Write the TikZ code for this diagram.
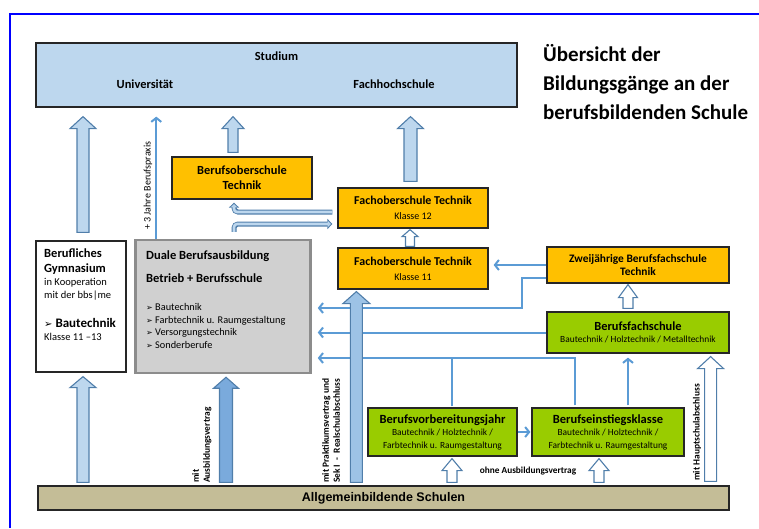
\documentclass[tikz,border=0pt]{standalone}
\usepackage{fontspec}
\setmainfont{Carlito}
\newfontfamily\arialfont{Liberation Sans}
\newfontfamily\symfont{DejaVu Sans}
\usetikzlibrary{arrows.meta,calc}

\definecolor{frameblue}{RGB}{0,0,255}
\definecolor{studblue}{RGB}{189,215,238}
\definecolor{edgeblue}{RGB}{80,126,170}
\definecolor{linkblue}{RGB}{91,155,213}
\definecolor{midblue}{RGB}{157,195,230}
\definecolor{deepblue}{RGB}{122,170,220}
\definecolor{fosorange}{RGB}{255,192,0}
\definecolor{bfsgreen}{RGB}{153,204,0}
\definecolor{dualgray}{RGB}{208,208,208}
\definecolor{dualedge}{RGB}{140,140,140}
\definecolor{allgtan}{RGB}{196,189,151}

% block arrow pointing up: style, shaft half width, head half width, head length, from, to
\newcommand{\blockarrow}[6]{%
  \draw[#1] let \p1=#5, \p2=#6 in
    (\x1-#2,\y1) -- (\x1-#2,\y2-#4) -- (\x1-#3,\y2-#4) -- (\x1,\y2)
    -- (\x1+#3,\y2-#4) -- (\x1+#2,\y2-#4) -- (\x1+#2,\y1) -- cycle;}

\tikzset{
  box/.style={draw=black!85, line width=1.2pt, inner sep=0pt, align=center},
  fosbox/.style={box, fill=fosorange},
  bfsbox/.style={box, fill=bfsgreen},
  headtxt/.style={font=\fontsize{12.4}{15}\selectfont\bfseries},
  subtxt/.style={font=\fontsize{9.4}{12.5}\selectfont},
  rotlbl/.style={rotate=90, align=left, inner sep=0pt, font=\fontsize{9.4}{11}\selectfont\bfseries},
  link/.style={linkblue, line width=2pt, -{Straight Barb[length=4pt,width=10pt]}},
  linkline/.style={linkblue, line width=2pt},
  lightarr/.style={draw=edgeblue, fill=studblue, line width=1.1pt},
  midarr/.style={draw=edgeblue, fill=midblue, line width=1.1pt},
  deeparr/.style={draw=edgeblue, fill=deepblue, line width=1.1pt},
  openarr/.style={draw=edgeblue, fill=white, line width=1.1pt},
  tubeout/.style={edgeblue, line width=5pt, rounded corners=4pt, -{Triangle[length=5pt,width=10pt]}},
  tubein/.style={studblue, line width=2.6pt, rounded corners=3pt, shorten >=1.5pt, -{Triangle[length=3pt,width=6pt]}}
}

\begin{document}
\begin{tikzpicture}[x=1pt,y=-1pt]
\useasboundingbox (0,0) rectangle (759,528);
\draw[frameblue, line width=1.6pt] (10,528) -- (10,14) -- (759,14);

% Studium
\node[box, fill=studblue, minimum width=481pt, minimum height=64pt] (stud) at (276.5,75) {};
\node[headtxt] (studium) at (276.5,56) {Studium};
\node[headtxt] (uni) at (145,84) {Universität};
\node[headtxt] (fh) at (394,84) {Fachhochschule};

\node[anchor=north west, align=left, inner sep=0pt, font=\fontsize{21}{29}\selectfont\bfseries] (title) at (543,44)
  {Übersicht der\\Bildungsgänge an der\\berufsbildenden Schule};

% orange
\node[fosbox, headtxt, minimum width=140pt, minimum height=42pt] (bos) at (242,178) {Berufsoberschule\\Technik};
\node[fosbox, minimum width=150pt, minimum height=40pt, font=\fontsize{12}{15}\selectfont\bfseries] (fos12) at (413,208)
  {Fachoberschule Technik\\{\fontsize{10}{12}\selectfont\mdseries Klasse 12}};
\node[fosbox, minimum width=150pt, minimum height=41pt, font=\fontsize{12}{15}\selectfont\bfseries] (fos11) at (413,268.5)
  {Fachoberschule Technik\\{\fontsize{10}{12}\selectfont\mdseries Klasse 11}};
\node[fosbox, minimum width=182pt, minimum height=36pt, font=\fontsize{11.4}{13}\selectfont\bfseries] (zwei) at (638,265)
  {Zweijährige Berufsfachschule\\Technik};

% green
\node[bfsbox, minimum width=182pt, minimum height=41pt, subtxt] (bfs) at (638,332.5)
  {{\fontsize{12.4}{14}\selectfont\bfseries Berufsfachschule}\\Bautechnik / Holztechnik / Metalltechnik};
\node[bfsbox, minimum width=149pt, minimum height=48pt, subtxt] (bvj) at (442.5,432)
  {{\fontsize{12.5}{13}\selectfont\bfseries Berufsvorbereitungsjahr}\\Bautechnik / Holztechnik /\\Farbtechnik u. Raumgestaltung};
\node[bfsbox, minimum width=152pt, minimum height=48pt, subtxt] (bek) at (608,432)
  {{\fontsize{12.5}{13}\selectfont\bfseries Berufseinstiegsklasse}\\Bautechnik / Holztechnik /\\Farbtechnik u. Raumgestaltung};

% left boxes
\node[box, fill=white, minimum width=90pt, minimum height=131pt] (gym) at (81,306.5) {};
\node[anchor=west, align=left, inner sep=0pt, font=\fontsize{12.5}{15}\selectfont\bfseries] (gymhead) at (44,261.5) {Berufliches\\Gymnasium};
\node[anchor=west, align=left, inner sep=0pt, font=\fontsize{10.5}{13}\selectfont] (gymnote) at (44,289.5) {in Kooperation\\mit der bbs|me};
\node[anchor=west, inner sep=0pt, font=\fontsize{13}{15}\selectfont\bfseries] (gymfield) at (44,323) {{\symfont\fontsize{10}{12}\selectfont ➢} Bautechnik};
\node[anchor=west, inner sep=0pt, font=\fontsize{10.5}{13}\selectfont] (gymclass) at (44,337) {Klasse 11 –13};

\node[box, draw=dualedge, line width=2.5pt, fill=dualgray, minimum width=175pt, minimum height=133pt] (duale) at (223,306.5) {};
\node[anchor=west, align=left, inner sep=0pt, font=\fontsize{12.5}{15}\selectfont\bfseries] (dualehead) at (146,266.5)
  {Duale Berufsausbildung\\[8pt]Betrieb + Berufsschule};
\node[anchor=west, align=left, inner sep=0pt, font=\fontsize{10.3}{12.7}\selectfont] (dualelist) at (146,326)
  {{\symfont\fontsize{8}{10}\selectfont ➢} Bautechnik\\{\symfont\fontsize{8}{10}\selectfont ➢} Farbtechnik u. Raumgestaltung\\
   {\symfont\fontsize{8}{10}\selectfont ➢} Versorgungstechnik\\{\symfont\fontsize{8}{10}\selectfont ➢} Sonderberufe};

\node[box, fill=allgtan, minimum width=691pt, minimum height=24pt, font=\arialfont\fontsize{12.5}{15}\selectfont\bfseries] (allg) at (383.5,498)
  {Allgemeinbildende Schulen};

% thin connectors
\draw[link] ($(duale.north west)+(22,0)$) -- ($(duale.north west |- stud.south)+(22,9)$);
\draw[link, shorten >=5pt] (zwei.west) -- (zwei.west -| fos11.east);
\draw[link, shorten >=6pt] ($(zwei.south west)+(0,-6)$) -- ++(-24,0) |- ($(duale.east)+(0,1.5)$);
\draw[link, shorten >=6pt] (bfs.west) -- (bfs.west -| duale.east);
\draw[link, shorten >=6pt] ($(bek.north west)+(44,-2)$) |- ($(duale.east)+(0,51.5)$);
\draw[linkline] ($(bvj.north)+(9.5,-1)$) -- ++(0,-49);
\draw[link] ($(bek.north)+(20,-2)$) -- ($(bfs.south)+(-10,4)$);
\draw[link, shorten >=1pt] (bvj.east) -- (bek.west);

% hollow bent arrows
\draw[tubeout] ($(fos12.west)+(-5,4)$) -| ($(bos.south)+(-8,3)$);
\draw[tubein] ($(fos12.west)+(-5,4)$) -| ($(bos.south)+(-8,3)$);
\draw[tubeout] ($(bos.south |- duale.north)+(-8,-7)$) |- ($(fos12.west)+(-5,16)$);
\draw[tubein] ($(bos.south |- duale.north)+(-8,-7)$) |- ($(fos12.west)+(-5,16)$);

% block arrows
\blockarrow{lightarr}{6pt}{13pt}{12pt}{($(gym.north)+(2,-8)$)}{($(gym.north |- stud.south)+(2,9)$)}
\blockarrow{lightarr}{5pt}{11pt}{12pt}{($(bos.north)+(-9,-4)$)}{($(bos.north |- stud.south)+(-9,9)$)}
\blockarrow{lightarr}{6.5pt}{13pt}{12pt}{($(fos12.north)+(-2.5,-6)$)}{($(fos12.north |- stud.south)+(-2.5,9)$)}
\blockarrow{openarr}{4.5pt}{8pt}{7pt}{($(fos11.north)+(-3,-1)$)}{($(fos12.south)+(-3,1)$)}
\blockarrow{openarr}{5pt}{9.5pt}{13pt}{($(bfs.north)+(-10,-3)$)}{($(zwei.south)+(-10,1)$)}
\blockarrow{openarr}{5pt}{10pt}{12pt}{($(bvj.south |- allg.north)+(9.5,-3)$)}{($(bvj.south)+(9.5,2)$)}
\blockarrow{openarr}{5pt}{10pt}{12pt}{($(bek.south |- allg.north)+(-9,-3)$)}{($(bek.south)+(-9,2)$)}
\blockarrow{openarr}{6pt}{13pt}{12pt}{($(bfs.south east |- allg.north)+(-19,-4)$)}{($(bfs.south east)+(-19,3)$)}
\blockarrow{midarr}{6pt}{13.5pt}{12pt}{($(fos11.south west |- allg.north)+(19,-3)$)}{($(fos11.south west)+(19,2)$)}
\blockarrow{deeparr}{6.5pt}{12.5pt}{11pt}{($(duale.south |- allg.north)+(3,-3)$)}{($(duale.south)+(3,3)$)}
\blockarrow{lightarr}{6pt}{13pt}{11pt}{($(gym.south |- allg.north)+(2,-3)$)}{($(gym.south)+(2,4)$)}

% labels
\node[anchor=west, rotate=90, inner sep=0pt, font=\fontsize{10}{12}\selectfont] (praxis) at (148,230) {+ 3 Jahre Berufspraxis};
\node[rotlbl, anchor=north west] (ausblbl) at (192,483) {mit\\Ausbildungsvertrag};
\node[rotlbl, anchor=north west] (praklbl) at (322,483) {mit Praktikumsvertrag und\\Sek I \ - \ Realschulabschluss};
\node[rotlbl, anchor=west] (hauptlbl) at (697,481) {mit Hauptschulabschluss};
\node[font=\fontsize{9.3}{11}\selectfont\bfseries] (ohnelbl) at (528,471) {ohne Ausbildungsvertrag};
\end{tikzpicture}
\end{document}
